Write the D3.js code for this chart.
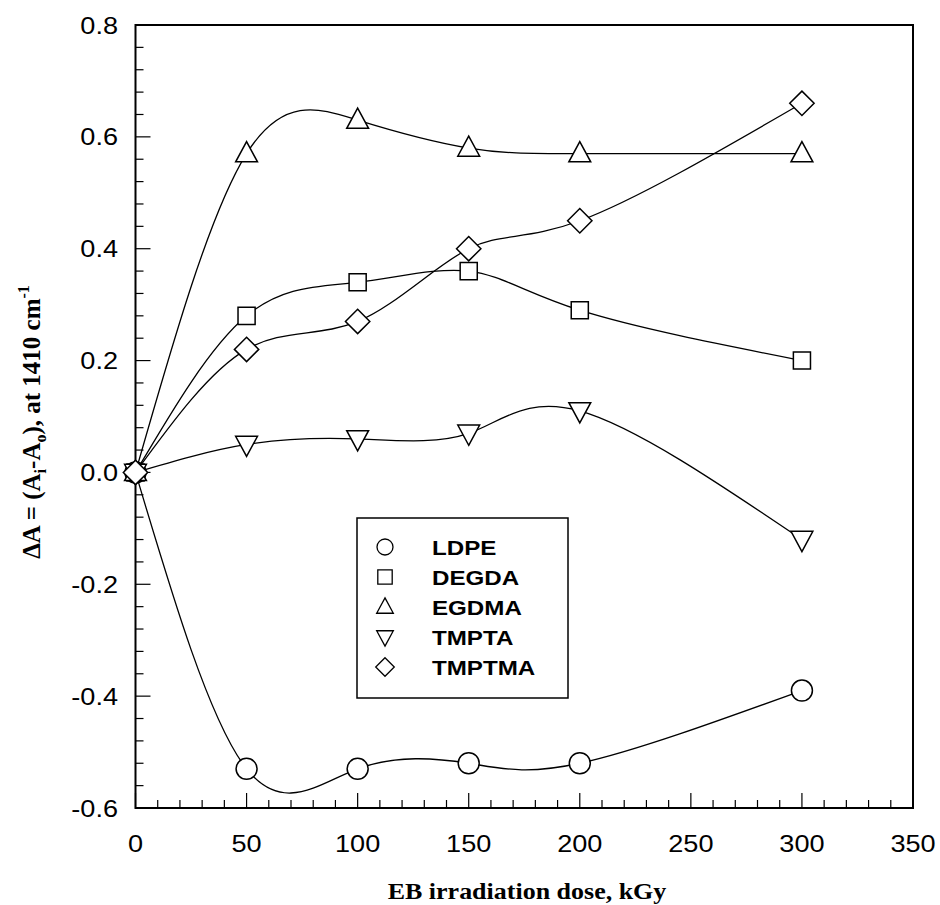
<!DOCTYPE html>
<html><head><meta charset="utf-8">
<script src="https://cdn.jsdelivr.net/npm/d3@7"></script>
<style>body{margin:0;background:#fff}svg{display:block}</style>
</head><body>
<svg id="c" width="940" height="905"></svg>
<script>
const doses = [0, 50, 100, 150, 200, 300];
const ldpe   = [0, -0.53, -0.53, -0.52, -0.52, -0.39];
const degda  = [0, 0.28, 0.34, 0.36, 0.29, 0.20];
const egdma  = [0, 0.57, 0.63, 0.58, 0.57, 0.57];
const tmpta  = [0, 0.05, 0.06, 0.07, 0.11, -0.12];
const tmptma = [0, 0.22, 0.27, 0.40, 0.45, 0.66];
const seriesNames = ["LDPE", "DEGDA", "EGDMA", "TMPTA", "TMPTMA"];
const xTicks = [0, 50, 100, 150, 200, 250, 300, 350];
const yTicks = [-0.6, -0.4, -0.2, 0.0, 0.2, 0.4, 0.6, 0.8];
const yTickLabels = ["-0.6", "-0.4", "-0.2", "0.0", "0.2", "0.4", "0.6", "0.8"];

const series = [
  {name: seriesNames[0], vals: ldpe, sym: "circle"},
  {name: seriesNames[1], vals: degda, sym: "square"},
  {name: seriesNames[2], vals: egdma, sym: "up"},
  {name: seriesNames[3], vals: tmpta, sym: "down"},
  {name: seriesNames[4], vals: tmptma, sym: "diamond"}
];

const L = 135.5, R = 913, T = 25, B = 808;
const x = d3.scaleLinear().domain([0, 350]).range([L, R]);
const y = d3.scaleLinear().domain([-0.6, 0.8]).range([B, T]);
const svg = d3.select("#c");
const SX = 1.13; // horizontal stretch of text in the original figure

function symPath(sym, s) {
  switch (sym) {
    case "circle": { const r = s * 0.5; return `M${r},0A${r},${r} 0 1,1 ${-r},0A${r},${r} 0 1,1 ${r},0Z`; }
    case "square": { const h = s * 0.45; return `M${-h},${-h}H${h}V${h}H${-h}Z`; }
    case "up": { const h = s * 0.52; return `M0,${-h * 1.1}L${h},${h * 0.75}L${-h},${h * 0.75}Z`; }
    case "down": { const h = s * 0.52; return `M0,${h * 1.1}L${h},${-h * 0.75}L${-h},${-h * 0.75}Z`; }
    case "diamond": { const h = s * 0.58; return `M0,${-h}L${h},0L0,${h}L${-h},0Z`; }
  }
}

// frame
svg.append("rect").attr("x", L).attr("y", T).attr("width", R - L).attr("height", B - T)
  .attr("fill", "none").attr("stroke", "#000").attr("stroke-width", 2);

// x ticks (inside)
const xMinor = d3.range(0, 351, 10);
svg.append("g").selectAll("line").data(xMinor).join("line")
  .attr("x1", d => x(d)).attr("x2", d => x(d))
  .attr("y1", B).attr("y2", d => B - (d % 50 === 0 ? 15 : 8))
  .attr("stroke", "#000").attr("stroke-width", 1.2);
svg.append("g").selectAll("text").data(xTicks).join("text")
  .attr("transform", d => `translate(${x(d)},852) scale(${SX},1)`).attr("text-anchor", "middle")
  .attr("font-family", "Liberation Sans, Arial, sans-serif").attr("font-size", 24)
  .text(d => d);

// y ticks
const yMinor = d3.range(-0.6, 0.8001, 0.04).map(v => +v.toFixed(2));
svg.append("g").selectAll("line").data(yMinor).join("line")
  .attr("y1", d => y(d)).attr("y2", d => y(d))
  .attr("x1", L).attr("x2", d => L + (Math.abs(Math.round(d * 5) - d * 5) < 1e-6 ? 15 : 8))
  .attr("stroke", "#000").attr("stroke-width", 1.2);
svg.append("g").selectAll("text").data(yTicks).join("text")
  .attr("transform", d => `translate(118,${y(d) + 8.5}) scale(${SX},1)`).attr("text-anchor", "end")
  .attr("font-family", "Liberation Sans, Arial, sans-serif").attr("font-size", 24)
  .text((d, i) => yTickLabels[i]);

// axis titles
svg.append("text").attr("transform", `translate(527,899) scale(${SX},1)`).attr("text-anchor", "middle")
  .attr("font-family", "Liberation Serif, Times New Roman, serif").attr("font-weight", "bold")
  .attr("font-size", 23).text("EB irradiation dose, kGy");

const yt = svg.append("text").attr("transform", "translate(40,422) rotate(-90)")
  .attr("text-anchor", "middle")
  .attr("font-family", "Liberation Serif, Times New Roman, serif").attr("font-weight", "bold")
  .attr("font-size", 25);
yt.append("tspan").text("\u0394A = (A");
yt.append("tspan").attr("font-size", 16).attr("dy", 6).text("i");
yt.append("tspan").attr("dy", -6).text("-A");
yt.append("tspan").attr("font-size", 16).attr("dy", 6).text("o");
yt.append("tspan").attr("dy", -6).text("), at 1410 cm");
yt.append("tspan").attr("font-size", 16).attr("dy", -11).text("-1");

// lines
const line = d3.line().x(d => x(d[0])).y(d => y(d[1])).curve(d3.curveNatural);
series.forEach(s => {
  svg.append("path").datum(doses.map((d, i) => [d, s.vals[i]]))
    .attr("d", line).attr("fill", "none").attr("stroke", "#000").attr("stroke-width", 1.3);
});
// markers
const sizes = {circle: 21, square: 19, up: 21, down: 21, diamond: 21};
series.forEach(s => {
  svg.append("g").selectAll("path").data(doses.map((d, i) => [d, s.vals[i]])).join("path")
    .attr("transform", d => `translate(${x(d[0])},${y(d[1])})`)
    .attr("d", symPath(s.sym, sizes[s.sym]))
    .attr("fill", "#fff").attr("stroke", "#000").attr("stroke-width", 1.5);
});

// legend
const lg = svg.append("g");
lg.append("rect").attr("x", 357).attr("y", 518).attr("width", 211).attr("height", 180)
  .attr("fill", "#fff").attr("stroke", "#000").attr("stroke-width", 1.5);
series.forEach((s, i) => {
  const cy = 547 + i * 30;
  lg.append("path").attr("transform", `translate(385,${cy})`).attr("d", symPath(s.sym, 16))
    .attr("fill", "#fff").attr("stroke", "#000").attr("stroke-width", 1.3);
  lg.append("text").attr("transform", `translate(432,${cy + 7.5}) scale(1.15,1)`)
    .attr("font-family", "Liberation Sans, Arial, sans-serif").attr("font-weight", "bold")
    .attr("font-size", 21).text(s.name);
});
</script>
</body></html>
